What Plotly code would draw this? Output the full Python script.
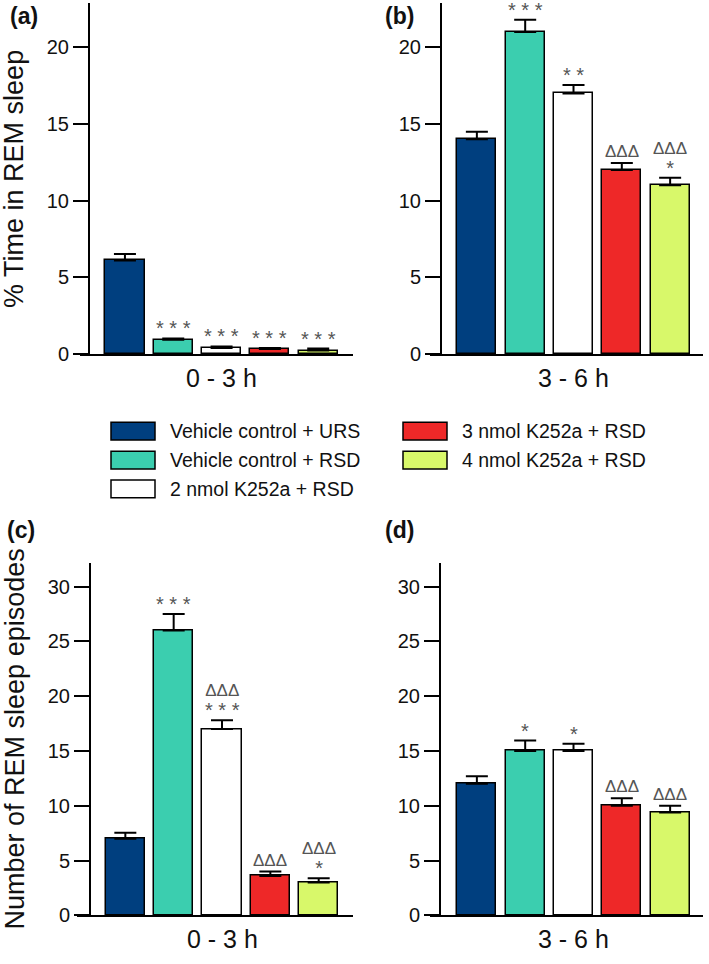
import plotly.graph_objects as go

# ----------------------------------------------------------------------------
# DATA
groups = ["Vehicle control + URS", "Vehicle control + RSD", "2 nmol K252a + RSD",
          "3 nmol K252a + RSD", "4 nmol K252a + RSD"]
colors = ["#003F7F", "#3BCEAF", "#FFFFFF", "#EE2828", "#D8F86A"]

# (a) % time in REM sleep, 0 - 3 h
rem_time_0_3 = [6.1, 0.93, 0.39, 0.32, 0.22]
rem_time_0_3_sem = [0.42, 0.08, 0.1, 0.07, 0.13]
# (b) % time in REM sleep, 3 - 6 h
rem_time_3_6 = [14.0, 21.0, 17.0, 12.0, 11.0]
rem_time_3_6_sem = [0.5, 0.8, 0.55, 0.45, 0.5]
# (c) number of REM sleep episodes, 0 - 3 h
rem_ep_0_3 = [7.0, 26.0, 17.0, 3.6, 3.0]
rem_ep_0_3_sem = [0.55, 1.5, 0.8, 0.4, 0.4]
# (d) number of REM sleep episodes, 3 - 6 h
rem_ep_3_6 = [12.0, 15.0, 15.0, 10.0, 9.4]
rem_ep_3_6_sem = [0.7, 0.95, 0.66, 0.7, 0.6]

# significance marks (stars vs URS, triangles vs vehicle + RSD)
stars_a = ["", "***", "***", "***", "***"]
delta_a = ["", "", "", "", ""]
stars_b = ["", "***", "**", "", "*"]
delta_b = ["", "", "", "ΔΔΔ", "ΔΔΔ"]
stars_c = ["", "***", "***", "", "*"]
delta_c = ["", "", "ΔΔΔ", "ΔΔΔ", "ΔΔΔ"]
stars_d = ["", "*", "*", "", ""]
delta_d = ["", "", "", "ΔΔΔ", "ΔΔΔ"]

period_labels = ["0 - 3 h", "3 - 6 h", "0 - 3 h", "3 - 6 h"]
panel_labels = ["(a)", "(b)", "(c)", "(d)"]
ytitle_top = "% Time in REM sleep"
ytitle_bottom = "Number of REM sleep episodes"
yticks_top = [0, 5, 10, 15, 20]
yticks_bottom = [0, 5, 10, 15, 20, 25, 30]

# ----------------------------------------------------------------------------
# LAYOUT HELPERS (pixel -> paper)
W, H = 709, 964
FONT = "Arial, Liberation Sans, sans-serif"
MARK_COLOR = "#555"


def xp(px):
    return px / W


def yp(py):
    return 1 - py / H


# per panel: x-axis pixel span, y-axis pixel x, y pixel span (top, zero), ranges
panels = [
    dict(x0=80, x1=353, yax=89, top=3, zero=358, xr=[-0.93, 4.72], yr=[0, 22.9],
         mean=rem_time_0_3, sem=rem_time_0_3_sem, stars=stars_a, delta=delta_a, ticks=yticks_top),
    dict(x0=430, x1=703, yax=441, top=3, zero=358, xr=[-0.97, 4.68], yr=[0, 22.9],
         mean=rem_time_3_6, sem=rem_time_3_6_sem, stars=stars_b, delta=delta_b, ticks=yticks_top),
    dict(x0=77, x1=353, yax=90, top=570, zero=926, xr=[-1.0, 4.71], yr=[0, 32.1],
         mean=rem_ep_0_3, sem=rem_ep_0_3_sem, stars=stars_c, delta=delta_c, ticks=yticks_bottom),
    dict(x0=430, x1=703, yax=440, top=570, zero=926, xr=[-0.97, 4.68], yr=[0, 32.1],
         mean=rem_ep_3_6, sem=rem_ep_3_6_sem, stars=stars_d, delta=delta_d, ticks=yticks_bottom),
]

fig = go.Figure()
annotations = []
shapes = []
xpos = list(range(len(groups)))

for i, p in enumerate(panels):
    n = "" if i == 0 else str(i + 1)
    fig.add_trace(go.Bar(
        x=xpos, y=p["mean"], width=0.81,
        marker=dict(color=colors, line=dict(color="black", width=1.5)),
        error_y=dict(type="data", array=p["sem"], arrayminus=[0] * 5, symmetric=False,
                     color="black", thickness=2, width=11),
        xaxis="x" + n, yaxis="y" + n, showlegend=False, hoverinfo="y"))

    fig.update_layout({
        "xaxis" + n: dict(domain=[xp(p["x0"]), xp(p["x1"])], anchor="y" + n, range=p["xr"],
                          showline=True, linewidth=2, linecolor="black", showticklabels=False,
                          ticks="", showgrid=False, zeroline=False),
        "yaxis" + n: dict(domain=[yp(p["zero"]), yp(p["top"])], anchor="free", position=xp(p["yax"]),
                          range=p["yr"], tickvals=p["ticks"], ticks="outside", ticklen=15,
                          tickwidth=2, tickcolor="black", showline=True, linewidth=2,
                          linecolor="black", showgrid=False, zeroline=False,
                          tickfont=dict(size=20, color="#111", family=FONT)),
    })

    # significance marks: triangles stacked over stars in one text block
    for j in xpos:
        top = p["mean"][j] + p["sem"][j]
        st, de = p["stars"][j], p["delta"][j]
        if not st and not de:
            continue
        if st and de:
            txt = ("<span style='font-size:17px'>" + de + "</span><br>"
                   "<span style='font-size:20px'>" + " ".join(st) + "</span>")
            size, shift = 16, -3
        elif st:
            txt, size, shift = " ".join(st), 20, -3
        else:
            txt, size, shift = de, 17, 0
        annotations.append(dict(x=j, y=top, xref="x" + n, yref="y" + n, yanchor="bottom",
                                text=txt, showarrow=False, yshift=shift,
                                font=dict(size=size, color=MARK_COLOR, family=FONT)))

    # period label under each panel
    annotations.append(dict(x=2, y=yp(p["zero"] + 24), xref="x" + n, yref="paper",
                            text=period_labels[i], showarrow=False, xanchor="center",
                            yanchor="middle", font=dict(size=25, color="#111", family=FONT)))

# panel letters
for lab, (px, py) in zip(panel_labels, [(24, 16), (399, 16), (21, 536), (399, 536)]):
    annotations.append(dict(x=xp(px), y=yp(py), xref="paper", yref="paper", text="<b>" + lab + "</b>",
                            xanchor="center", yanchor="middle", showarrow=False,
                            font=dict(size=23, color="#111", family=FONT)))

# y-axis titles
for txt, (px, py) in zip([ytitle_top, ytitle_bottom], [(14, 181), (15, 748)]):
    annotations.append(dict(x=xp(px), y=yp(py), xref="paper", yref="paper", text=txt,
                            textangle=-90, xanchor="center", yanchor="middle", showarrow=False,
                            font=dict(size=27, color="#111", family=FONT)))

# legend: two columns, swatch + label
leg_cols = [(111, 168), (403, 460)]
leg_rows = [436, 465.5, 494.5]
for k, (g, c) in enumerate(zip(groups, colors)):
    col = 0 if k < 3 else 1
    row = k if k < 3 else k - 3
    sx, tx = leg_cols[col]
    cy = leg_rows[row]
    shapes.append(dict(type="rect", xref="paper", yref="paper", x0=xp(sx), x1=xp(sx + 44),
                       y0=yp(cy + 9), y1=yp(cy - 9), fillcolor=c, line=dict(color="black", width=1.5)))
    annotations.append(dict(x=xp(tx), y=yp(cy), xref="paper", yref="paper", xanchor="left",
                            yanchor="middle", text=g, showarrow=False,
                            font=dict(size=19.5, color="#111", family=FONT)))

fig.update_layout(width=W, height=H, margin=dict(l=0, r=0, t=0, b=0),
                  plot_bgcolor="white", paper_bgcolor="white",
                  annotations=annotations, shapes=shapes, bargap=0, font=dict(family=FONT))

# drop the default page margin / scrollbars so the figure fills the window exactly
page_fix = ("document.documentElement.style.margin='0';document.body.style.margin='0';"
            "document.documentElement.style.overflow='hidden';document.body.style.overflow='hidden';")
fig.write_html("out.html", post_script=page_fix, config={"displayModeBar": False})
